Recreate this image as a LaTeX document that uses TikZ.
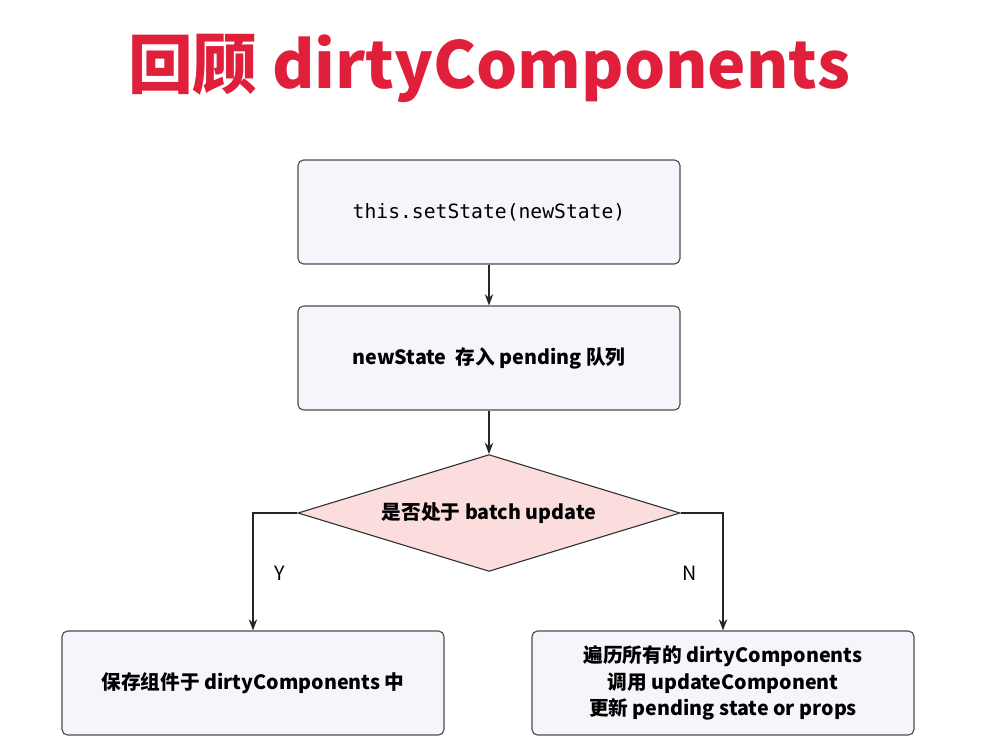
\documentclass[tikz,border=0pt]{standalone}
\usepackage{fontspec}
\setmainfont{Noto Sans CJK SC}
\setmonofont{DejaVu Sans Mono}
\usetikzlibrary{shapes.geometric,arrows.meta}
\definecolor{boxfill}{HTML}{F6F5FB}
\definecolor{diafill}{HTML}{FCDDDD}
\definecolor{titlered}{HTML}{E0203A}
\tikzset{
  stepbox/.style={draw=black!70,thick,rounded corners=4pt,fill=boxfill,
    minimum width=9.55cm,minimum height=2.6cm,align=center,font=\fontsize{14}{19}\selectfont},
  choice/.style={diamond,draw=black!80,thick,fill=diafill,aspect=3.27,
    minimum width=9.55cm,minimum height=2.92cm,inner sep=0pt,font=\fontsize{14}{16}\selectfont},
  flow/.style={-{Stealth[length=8pt,width=6pt]},thick,black!85},
}
\begin{document}
\begin{tikzpicture}[x=0.025cm,y=-0.025cm]

        % Canvas.
        \useasboundingbox(0,0)rectangle(981,756);

        % Title.
        \node(title)[font=\fontsize{46}{52}\selectfont\bfseries,text=titlered]at(489,68){回顾 dirtyComponents};

        % Steps.
        \node(setstate)[stepbox]at(489,212){\ttfamily\fontsize{14}{16}\selectfont this.setState(newState)};
        \node(pending)[stepbox]at(489,358){\textbf{newState\ \ 存入 pending 队列}};
        \node(batch)[choice]at(489,513){\textbf{是否处于 batch update}};
        \node(save)[stepbox]at(253,683){\textbf{保存组件于 dirtyComponents 中}};
        \node(loop)[stepbox]at(723,683){\textbf{遍历所有的 dirtyComponents}\\\textbf{调用 updateComponent}\\\textbf{更新 pending state or props}};

        % Connectors.
        \draw[flow](setstate)--(pending);
        \draw[flow](pending)--(batch);
        \draw[flow](batch.west)-|(save.north);
        \draw[flow](batch.east)-|(loop.north);

        % Branch labels.
        \node(yes)[font=\fontsize{14}{16}\selectfont]at(280,573){Y};
        \node(no)[font=\fontsize{14}{16}\selectfont]at(690,573){N};

    \end{tikzpicture}
\end{document}
